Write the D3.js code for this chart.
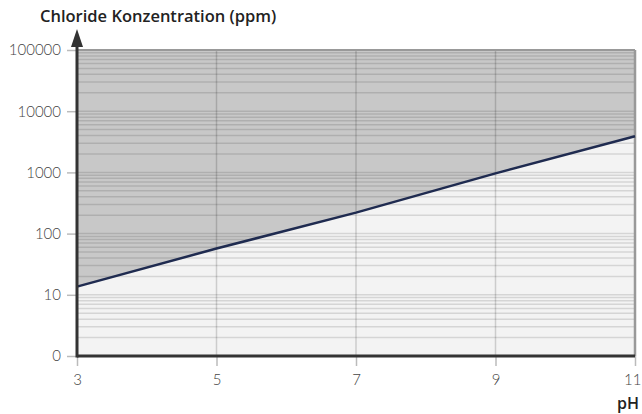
<!DOCTYPE html>
<html>
<head>
<meta charset="utf-8">
<script src="https://cdn.jsdelivr.net/npm/d3@7"></script>
<style>
  body { margin: 0; background: #fff; }
  text { font-family: Lato, "Open Sans", sans-serif; }
</style>
</head>
<body>
<div id="chart"></div>
<script>
// pH vs chloride limit
const phValues = [3, 5, 7, 9, 11];
const chloride = [13.6, 57, 220, 965, 3900];
const xTicks = [3, 5, 7, 9, 11];
const yTicks = [1, 10, 100, 1000, 10000, 100000];
const yTickLabels = ["0", "10", "100", "1000", "10000", "100000"];

const W = 642, H = 414;
const margin = {top: 50, right: 7, bottom: 58, left: 77};
const width = W - margin.left - margin.right;
const height = H - margin.top - margin.bottom;

const svg = d3.select("#chart").append("svg")
  .attr("width", W).attr("height", H);
const g = svg.append("g")
  .attr("transform", "translate(" + margin.left + "," + margin.top + ")");

const x = d3.scaleLinear().domain([3, 11]).range([0, width]);
const y = d3.scaleLog().domain([1, 100000]).range([height, 0]);

const data = phValues.map((p, i) => ({ph: p, v: chloride[i]}));

// background below the line
g.append("rect").attr("width", width).attr("height", height).attr("fill", "#f3f3f3");

// shaded area above the line
g.append("path")
  .datum(data)
  .attr("fill", "#c8c8c8")
  .attr("d", d3.area().x(d => x(d.ph)).y0(0).y1(d => y(d.v)));

// horizontal log grid (major + minor)
const minor = [];
for (let dec = 1; dec < 100000; dec *= 10) {
  for (let k = 1; k <= 9; k++) minor.push(dec * k);
}
g.append("g").selectAll("line")
  .data(minor)
  .enter().append("line")
  .attr("x1", 0).attr("x2", width)
  .attr("y1", d => y(d)).attr("y2", d => y(d))
  .attr("stroke", "rgba(0,0,0,0.12)")
  .attr("stroke-width", 1.5);

// vertical grid
g.append("g").selectAll("line")
  .data(xTicks.slice(1, -1))
  .enter().append("line")
  .attr("x1", d => x(d)).attr("x2", d => x(d))
  .attr("y1", 0).attr("y2", height)
  .attr("stroke", "rgba(0,0,0,0.16)")
  .attr("stroke-width", 1.5);

// top and right border
g.append("line").attr("x1", 0).attr("x2", width).attr("y1", 0).attr("y2", 0)
  .attr("stroke", "#999").attr("stroke-width", 2);
g.append("line").attr("x1", width).attr("x2", width).attr("y1", 0).attr("y2", height)
  .attr("stroke", "#999").attr("stroke-width", 2.5);

// the line
g.append("path")
  .datum(data)
  .attr("fill", "none")
  .attr("stroke", "#1f2b50")
  .attr("stroke-width", 2.5)
  .attr("d", d3.line().x(d => x(d.ph)).y(d => y(d.v)));

// y axis
const yAxis = g.append("g")
  .call(d3.axisLeft(y).tickValues(yTicks)
    .tickFormat((d, i) => yTickLabels[i]).tickSize(10).tickPadding(6));
yAxis.select(".domain").remove();
yAxis.selectAll(".tick line").attr("stroke", "#bbb").attr("stroke-width", 1.5);
yAxis.selectAll(".tick text").attr("fill", "#444").style("font-size", "15px").style("font-weight", 300);

// x axis
const xAxis = g.append("g")
  .attr("transform", "translate(0," + height + ")")
  .call(d3.axisBottom(x).tickValues(xTicks).tickFormat(d3.format("d")).tickSize(10).tickPadding(8));
xAxis.select(".domain").remove();
xAxis.selectAll(".tick line").attr("stroke", "#bbb").attr("stroke-width", 1.5);
xAxis.selectAll(".tick text").attr("fill", "#444").style("font-size", "15px").style("font-weight", 300);
// last label sits against the right edge
xAxis.selectAll(".tick text").filter(d => d === 11)
  .attr("text-anchor", "end").attr("x", W - margin.left - width - 1);

// axis lines
g.append("line").attr("x1", 0).attr("x2", width).attr("y1", height).attr("y2", height)
  .attr("stroke", "#333").attr("stroke-width", 3);
g.append("line").attr("x1", 0).attr("x2", 0).attr("y1", height + 1.5).attr("y2", -6)
  .attr("stroke", "#333").attr("stroke-width", 3);
g.append("path")
  .attr("d", "M-6,-3 L0,-21 L6,-3 Z")
  .attr("fill", "#333");

// titles
svg.append("text")
  .attr("x", 40).attr("y", 22)
  .style("font-family", "'Open Sans', sans-serif")
  .style("font-size", "16.5px").style("font-weight", 600).attr("fill", "#222")
  .text("Chloride Konzentration (ppm)");

svg.append("text")
  .attr("x", 639).attr("y", 409)
  .attr("text-anchor", "end")
  .style("font-family", "'Open Sans', sans-serif")
  .style("font-size", "16px").style("font-weight", 600).attr("fill", "#222")
  .text("pH");
</script>
</body>
</html>
